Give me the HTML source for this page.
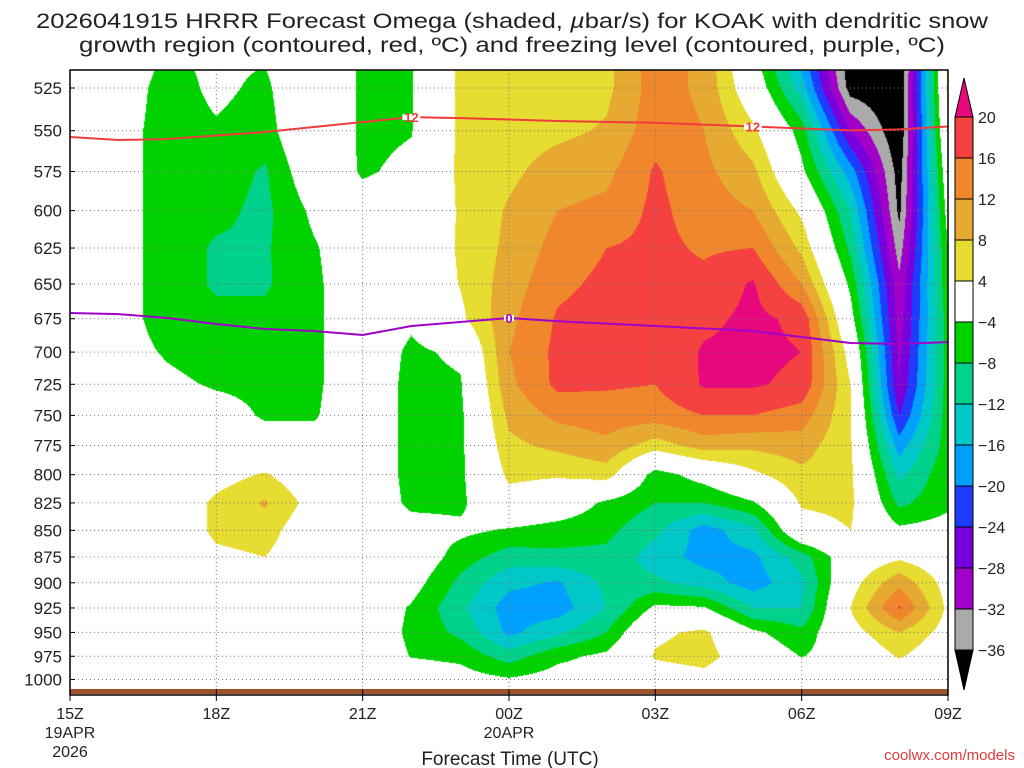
<!DOCTYPE html>
<html><head><meta charset="utf-8">
<style>
html,body{margin:0;padding:0;background:#fff;}
#wrap{position:relative;width:1024px;height:768px;overflow:hidden;font-family:"Liberation Sans",sans-serif;}
canvas{position:absolute;left:70px;top:70px;}
svg{position:absolute;left:0;top:0;}
</style></head>
<body>
<div id="wrap">
<canvas id="cv" width="878" height="620"></canvas>
<svg id="sv" width="1024" height="768"></svg>
</div>
<script>
// ---- data ----
const hours = [0,1,2,3,4,5,6,7,8,9,10,11,12,13,14,15,16,17,18];
const hourLabels = ["15Z","18Z","21Z","00Z","03Z","06Z","09Z"];
const levels = [500,525,550,575,600,625,650,675,700,725,750,775,800,825,850,875,900,925,950,975,1000];
const pressureTicks = [525,550,575,600,625,650,675,700,725,750,775,800,825,850,875,900,925,950,975,1000];
const omegaH0 = [0,0,0,0,0,0,0,0,0,0,0,0,0,0,0,0,0,0,0,0,0];
const omegaH1 = [0,-1,-2,-2,-2,-2,-2,-2,-2,-1,0,0,0,0,0,0,0,0,0,0,0];
const omegaH2 = [-4,-6,-6,-6,-6,-6,-6,-6,-4.5,-3,-1,0,0,0,0,0,0,0,0,0,0];
const omegaH3 = [-3,-3,-4.5,-6,-7,-8.5,-8.5,-7,-6,-4.5,-2,0,2,5,5,3,0,0,0,0,0];
const omegaH4 = [-3,-5,-6,-8.5,-9,-8.5,-8.5,-7,-6,-5,-4.5,-2,4.5,8.5,6,4,0,0,0,0,0];
const omegaH5 = [2,2,2,0,-3,-4.5,-5,-5,-5,-5,-4.5,-2,0,2,0,0,0,0,0,0,0];
const omegaH6 = [-5,-5,-5,-4.5,-2,0,0,0,0,0,0,0,0,0,0,0,0,0,0,0,0];
const omegaH7 = [-4.2,-4.2,-4.2,-3,-1,0,0,-3,-5,-5.5,-5.5,-5.5,-5.5,-5,-2,0,-2,-4.5,-5,-4.2,-1];
const omegaH8 = [5,5,5,5,4.5,4.5,4.2,3,-3,-4.5,-5,-5,-5,-5,-3,-6,-9,-11,-9,-5,-2];
const omegaH9 = [5,5,6,7,8.5,9,10,11,12,11,9,7,5,2,-4.5,-10,-15,-18,-17,-10,-3.5];
const omegaH10 = [5,5,7,10,12,13.5,15,16.5,17,17,13,9,4.5,0,-6,-9,-16.5,-18,-13,-5,-2];
const omegaH11 = [7,7,8.5,11,13,16,17,18,17,16.5,14,11,6,-5,-7,-9,-11,-12,-8,-3,-2];
const omegaH12 = [14,14,14.5,16.5,17,17,17,17,16.5,16,14,6,-6,-8,-11,-14,-11,-3,3,4.5,1];
const omegaH13 = [11,11,12,13,14,15.5,17,19,20.5,20.5,16,10,-2,-8,-18,-17.5,-14,-3.5,5,6,2];
const omegaH14 = [-3,0,5,9,12,16,20.5,21,21,20.5,16,9,3,-4.5,-13,-17,-18,-12,-3,0,-1];
const omegaH15 = [-20,-14,-6,-3,3,7,12,19,20,19,14,10,7,4.5,2,-10,-13,-12,-7,-4.2,0];
const omegaH16 = [-40,-38,-28,-18,-12,-9,-5,-2,2,4,4.5,4.5,5,5,4,0,2,4,2,-1,-4];
const omegaH17 = [-42,-40,-40,-38,-37,-34,-31,-30,-29,-28,-24,-18,-13,-9,-3,3,11,16.5,8,4.5,0];
const omegaH18 = [5,5,3,0,-2,-4,-5,-6,-6,-6,-6,-6,-5,-5,-2,0,2,3,2,0,0];
const omega = [omegaH0,omegaH1,omegaH2,omegaH3,omegaH4,omegaH5,omegaH6,omegaH7,omegaH8,omegaH9,omegaH10,omegaH11,omegaH12,omegaH13,omegaH14,omegaH15,omegaH16,omegaH17,omegaH18];
const tempHours12 = [0,1,2,4,6,7,8,10,12,14,16,17,18];
const tempP12 = [553.8,555.6,555,550.8,544.8,541.9,542.5,544.2,545.3,547.5,549.8,549.2,547.5];
const tempHours0 = [0,1,2,3,4,5,6,7,8,9,10,12,14,15,16,17,18];
const tempP0 = [670.8,671.6,674.5,678.9,682.6,684.1,687.1,680.4,677.4,674.5,676.8,680.4,684.1,688.6,693.1,693.8,692.4];
const cbLevels = [20,16,12,8,4,-4,-8,-12,-16,-20,-24,-28,-32,-36];
const cbColors = ["#e8087e","#f5413f","#f0872d","#e6aa32","#e6dc32","#ffffff","#00d200","#00d28c","#00c8c8","#00a0ff","#1e3cff","#7800dc","#a000c8","#aaaaaa","#000000"];

// ---- axes ----
const X0=70, X1=948, PX=(X1-X0)/18;
const xs = h => X0 + h*PX;
const ys = p => 88 + 918*Math.log(p/525);
function hex(c){return [parseInt(c.substr(1,2),16),parseInt(c.substr(3,2),16),parseInt(c.substr(5,2),16)];}
const rgbCols = cbColors.map(hex);
function colIdx(v){ for(let i=0;i<cbLevels.length;i++){ if(v>=cbLevels[i]) return i; } return cbLevels.length; }

// ---- shading ----
const cv=document.getElementById('cv'), ctx=cv.getContext('2d');
const W=cv.width,H=cv.height;
const img=ctx.createImageData(W,H);
const rowY = levels.map(ys);
for(let py=0;py<H;py++){
  const y=70+py+0.5;
  let r=0; while(r<levels.length-2 && rowY[r+1]<y) r++;
  let ty=(y-rowY[r])/(rowY[r+1]-rowY[r]); ty=Math.max(0,Math.min(1,ty));
  for(let px=0;px<W;px++){
    const h=(px+0.5)/PX;
    let c=Math.min(17,Math.floor(h)); const tx=h-c;
    const a=omega[c][r],b=omega[c+1][r],d=omega[c][r+1],e=omega[c+1][r+1];
    const v=(a*(1-tx)+b*tx)*(1-ty)+(d*(1-tx)+e*tx)*ty;
    const col=rgbCols[colIdx(v)];
    const k=(py*W+px)*4;
    img.data[k]=col[0];img.data[k+1]=col[1];img.data[k+2]=col[2];img.data[k+3]=255;
  }
}
ctx.putImageData(img,0,0);

// ---- svg overlay ----
const NS="http://www.w3.org/2000/svg";
const sv=document.getElementById('sv');
function mk(tag,attrs,parent){const el=document.createElementNS(NS,tag);for(const k in attrs)el.setAttribute(k,attrs[k]);(parent||sv).appendChild(el);return el;}

// ground
let g=mk('rect',{x:X0,y:689,width:X1-X0,height:5,fill:'#a0522d'});



// grid
pressureTicks.forEach(p=>{
  const l=mk('line',{x1:X0,x2:X1,y1:ys(p),y2:ys(p),stroke:'#777','stroke-width':1,'stroke-dasharray':'1 3'});
  
  
  const t=mk('line',{x1:X0,x2:X0+5,y1:ys(p),y2:ys(p),stroke:'#000'});
  
  
  const tx=mk('text',{x:62,y:ys(p)+6,'text-anchor':'end','font-size':17,fill:'#222','font-family':'Liberation Sans, sans-serif'});
  tx.textContent=p;
  
  
});
hourLabels.forEach((lab,i)=>{
  const x=xs(i*3);
  if(i>0&&i<6){
    const l=mk('line',{x1:x,x2:x,y1:70,y2:689,stroke:'#777','stroke-width':1,'stroke-dasharray':'1 3'});
    
    
  }
  const t=mk('line',{x1:x,x2:x,y1:689,y2:701,stroke:'#000'});
  
  
  const tx=mk('text',{x:x,y:719,'text-anchor':'middle','font-size':16,fill:'#222','font-family':'Liberation Sans, sans-serif'});
  tx.textContent=lab;
  
  
});
[["20APR",3,738],["19APR",0,738],["2026",0,757]].forEach(d=>{
  const tx=mk('text',{x:xs(d[1]*3),y:d[2],'text-anchor':'middle','font-size':16,fill:'#222','font-family':'Liberation Sans, sans-serif'});
  tx.textContent=d[0];
  
  
});

// temp contours
function line(hs,ps,color,name){
  const d=hs.map((h,i)=>(i?'L':'M')+xs(h).toFixed(1)+','+ys(ps[i]).toFixed(1)).join(' ');
  const p=mk('path',{d:d,fill:'none',stroke:color,'stroke-width':2});
  
  
}
line(tempHours12,tempP12,'#f03c3c','contour-minus12c');
line(tempHours0,tempP0,'#a000c8','freezing-level-contour');
function clabel(h,ps,hs,txt,color,name,w){
  let i=hs.indexOf(h); const x=xs(h), y=ys(ps[i]);
  const r=mk('rect',{x:x-w/2,y:y-3,width:w,height:6,fill:'#fff'});
  
  
  const t=mk('text',{x:x,y:y+5,'text-anchor':'middle','font-size':13,'font-weight':'bold',fill:color,'font-family':'Liberation Sans, sans-serif'});
  t.textContent=txt;
  
  
}
clabel(7,tempP12,tempHours12,'12','#f03c3c','contour-label-12',18);
clabel(14,tempP12,tempHours12,'12','#f03c3c','contour-label-12',18);
clabel(9,tempP0,tempHours0,'0','#a000c8','contour-label-0',10);

// frame
let fr=mk('rect',{x:X0,y:70,width:X1-X0,height:625,fill:'none',stroke:'#000','stroke-width':1.5});



// colorbar
const cbX=955,cbW=18,cbTop=117,cbH=41;
let tri=mk('polygon',{points:`${cbX},${cbTop} ${cbX+cbW},${cbTop} ${cbX+cbW/2},78`,fill:cbColors[0],stroke:'#000'});


for(let i=1;i<cbLevels.length;i++){
  const b=mk('rect',{x:cbX,y:cbTop+(i-1)*cbH,width:cbW,height:cbH,fill:cbColors[i],stroke:'#000'});
  
  
}
const cbBot=cbTop+(cbLevels.length-1)*cbH;
let tri2=mk('polygon',{points:`${cbX},${cbBot} ${cbX+cbW},${cbBot} ${cbX+cbW/2},690`,fill:'#000',stroke:'#000'});


cbLevels.forEach((v,i)=>{
  const t=mk('text',{x:978,y:cbTop+i*cbH+6,'font-size':16,fill:'#222','font-family':'Liberation Sans, sans-serif'});
  t.textContent=(v<0?'\u2212'+(-v):''+v);
  
  
});

// titles
let t1=mk('text',{x:512,y:28,'text-anchor':'middle','font-size':21,fill:'#222',textLength:952,lengthAdjust:'spacingAndGlyphs','font-family':'Liberation Sans, sans-serif'});
t1.innerHTML='2026041915 HRRR Forecast Omega (shaded, <tspan font-style="italic">\u00b5</tspan>bar/s) for KOAK with dendritic snow';


let t2=mk('text',{x:512,y:52,'text-anchor':'middle','font-size':21,fill:'#222',textLength:866,lengthAdjust:'spacingAndGlyphs','font-family':'Liberation Sans, sans-serif'});
t2.textContent='growth region (contoured, red, \u00baC) and freezing level (contoured, purple, \u00baC)';


let xt=mk('text',{x:510,y:765,'text-anchor':'middle','font-size':19,fill:'#222','font-family':'Liberation Sans, sans-serif'});
xt.textContent='Forecast Time (UTC)';


let cr=mk('text',{x:1015,y:760,'text-anchor':'end','font-size':15,fill:'#e03c3c','font-family':'Liberation Sans, sans-serif'});
cr.textContent='coolwx.com/models';


</script>
</body></html>
